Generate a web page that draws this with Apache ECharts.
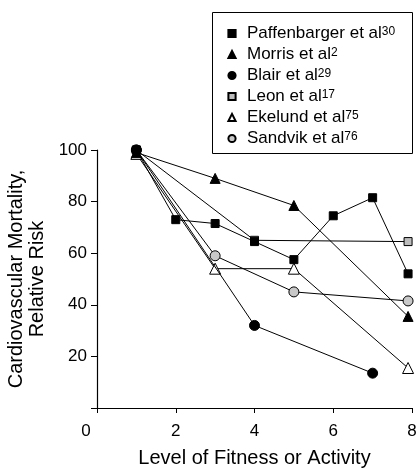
<!DOCTYPE html>
<html>
<head>
<meta charset="utf-8">
<script src="https://cdn.jsdelivr.net/npm/echarts@6/dist/echarts.min.js"></script>
<style>html,body{margin:0;padding:0;background:#fff;}#c{width:416px;height:468px;}</style>
</head>
<body>
<div id="c"></div>
<script>
// Study names and reference superscripts
var studyNames = ['Paffenbarger et al', 'Morris et al', 'Blair et al', 'Leon et al', 'Ekelund et al', 'Sandvik et al'];
var studyRefs = ['30', '2', '29', '17', '75', '76'];

// Data per study: [level, relative risk]
var paffenbarger = [[1, 100], [2, 73], [3, 71.5], [4, 64.5], [5, 57.5], [6, 74.5], [7, 81.5], [7.9, 52]];
var morris = [[1, 99], [3, 89], [5, 78.5], [7.9, 35.5]];
var blair = [[1, 100], [4, 32], [7, 13.5]];
var leon = [[1, 100], [4, 65], [7.9, 64.5]];
var ekelund = [[1, 98.5], [3, 54], [5, 54], [7.9, 15.5]];
var sandvik = [[1, 100], [3, 59], [5, 45], [7.9, 41.5]];

var xTicks = [0, 2, 4, 6, 8];
var yTicks = [20, 40, 60, 80, 100];

var seriesData = [paffenbarger, morris, blair, leon, ekelund, sandvik];
var symbols = ['rect', 'triangle', 'circle', 'rect', 'triangle', 'circle'];
var fills = ['#000', '#000', '#000', '#bdbdbd', '#fff', '#c8c8c8'];
var sizes = [8, 10, 10, 8, 11, 10];

var chart = echarts.init(document.getElementById('c'), null, {renderer: 'canvas'});
var refMap = {};
studyNames.forEach(function (n, i) { refMap[n] = studyRefs[i]; });

var series = studyNames.map(function (name, i) {
  return {
    name: name,
    type: 'line',
    data: seriesData[i],
    symbol: symbols[i],
    symbolSize: sizes[i],
    showAllSymbol: true,
    lineStyle: {color: '#000', width: 1},
    itemStyle: {color: fills[i], borderColor: '#000', borderWidth: 1},
    emphasis: {disabled: true},
    z: 10 - i
  };
});

var FONT = 'Liberation Sans, Arial, sans-serif';

chart.setOption({
  animation: false,
  backgroundColor: '#fff',
  textStyle: {fontFamily: FONT, color: '#000'},
  grid: {left: 97, right: 4, top: 150, bottom: 60, containLabel: false, outerBoundsMode: 'none'},
  legend: {
    orient: 'vertical',
    left: 222,
    top: 25,
    itemWidth: 20,
    itemHeight: 9,
    itemGap: 4,
    padding: 0,
    selectedMode: false,
    lineStyle: {opacity: 0, width: 0},
    data: studyNames,
    formatter: function (n) { return '{n|' + n + '}{s|' + refMap[n] + '}'; },
    textStyle: {
      color: '#000',
      fontFamily: FONT,
      rich: {
        n: {fontSize: 17, lineHeight: 16, color: '#000', fontFamily: FONT},
        s: {fontSize: 12, lineHeight: 10, verticalAlign: 'top', color: '#000', fontFamily: FONT}
      }
    }
  },
  graphic: [{
    type: 'rect',
    shape: {x: 212.5, y: 12.5, width: 200, height: 141},
    style: {fill: 'none', stroke: '#000', lineWidth: 1},
    z: 1
  }],
  xAxis: {
    type: 'value',
    min: xTicks[0],
    max: xTicks[xTicks.length - 1],
    interval: 2,
    name: 'Level of Fitness or Activity',
    nameLocation: 'middle',
    nameGap: 40,
    nameTextStyle: {fontSize: 20, color: '#000'},
    axisLine: {lineStyle: {color: '#000', width: 1.2}},
    axisTick: {inside: false, length: 5, lineStyle: {color: '#000', width: 1}},
    axisLabel: {
      fontSize: 17, color: '#000', margin: 15,
      formatter: function (v) { return v === 0 ? '{z|0}' : String(v); },
      rich: {z: {fontSize: 17, color: '#000', padding: [0, 22, 0, 0], fontFamily: FONT}}
    },
    splitLine: {show: false}
  },
  yAxis: {
    type: 'value',
    min: 0,
    max: yTicks[yTicks.length - 1],
    interval: 20,
    name: 'Cardiovascular Mortality,\nRelative Risk',
    nameLocation: 'middle',
    nameGap: 41,
    nameTextStyle: {fontSize: 20, color: '#000', lineHeight: 21},
    axisLine: {show: true, lineStyle: {color: '#000', width: 1.2}},
    axisTick: {show: true, inside: false, length: 6, lineStyle: {color: '#000', width: 1}},
    axisLabel: {fontSize: 17, color: '#000', margin: 10, formatter: function (v) { return v === 0 ? '' : String(v); }},
    splitLine: {show: false}
  },
  series: series
});
</script>
</body>
</html>
